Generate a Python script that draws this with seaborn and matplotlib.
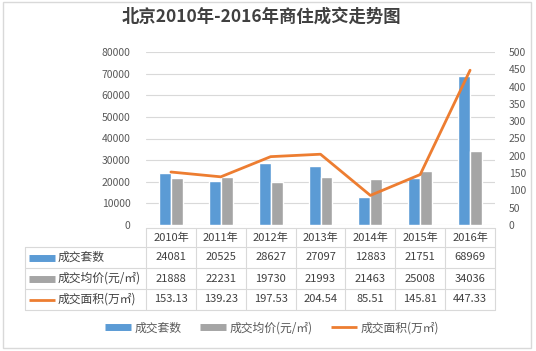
import numpy as np
import pandas as pd
import matplotlib
matplotlib.use("Agg")
import matplotlib.pyplot as plt
from matplotlib.lines import Line2D
from matplotlib.patches import Rectangle
import seaborn as sns

years = ["2010年", "2011年", "2012年", "2013年", "2014年", "2015年", "2016年"]
units = [24081, 20525, 28627, 27097, 12883, 21751, 68969]
price = [21888, 22231, 19730, 21993, 21463, 25008, 34036]
area = [153.13, 139.23, 197.53, 204.54, 85.51, 145.81, 447.33]
area_labels = ["153.13", "139.23", "197.53", "204.54", "85.51", "145.81", "447.33"]
series = ["成交套数", "成交均价(元/㎡)", "成交面积(万㎡)"]
title = "北京2010年-2016年商住成交走势图"
left_ticks = [0, 10000, 20000, 30000, 40000, 50000, 60000, 70000, 80000]
right_ticks = [0, 50, 100, 150, 200, 250, 300, 350, 400, 450, 500]

BLUE = "#5B9BD5"
GRAY = "#A5A5A5"
ORANGE = "#ED7D31"
TXT = "#595959"
GRID = "#D9D9D9"

sns.set_style("white")
plt.rcParams["font.family"] = ["Noto Sans CJK SC", "DejaVu Sans"]

W, H = 536, 351
fig = plt.figure(figsize=(W / 100, H / 100), dpi=100)

def fx(px):
    return px / W

def fy(py):
    return 1 - py / H

# axes placement
L, R, T, B = 146, 495, 52, 225
ax = fig.add_axes([fx(L), fy(B), fx(R) - fx(L), fy(T) - fy(B)])

df = pd.DataFrame({
    "year": years * 2,
    "series": [series[0]] * len(years) + [series[1]] * len(years),
    "value": units + price,
})
sns.barplot(data=df, x="year", y="value", hue="series", palette=[BLUE, GRAY],
            width=0.48, gap=0, saturation=1, ax=ax, legend=False, order=years)
ax.set_xlim(-0.5, len(years) - 0.5)
ax.set_ylim(0, 80000)
ax.set_yticks(left_ticks)
ax.set_yticklabels([str(t) for t in left_ticks])
ax.tick_params(axis="y", length=0, pad=11, labelsize=7.5, labelcolor=TXT)
ax.set_xticks([])
ax.set_xlabel("")
ax.set_ylabel("")
ax.grid(axis="y", color=GRID, lw=0.8)
ax.set_axisbelow(True)
for s in ax.spines.values():
    s.set_visible(False)

ax2 = ax.twinx()
sns.lineplot(x=np.arange(len(years)), y=area, ax=ax2, color=ORANGE, lw=2.0)
ax2.set_ylim(0, 500)
ax2.set_yticks(right_ticks)
ax2.set_yticklabels([str(t) for t in right_ticks])
ax2.tick_params(axis="y", length=0, pad=10, labelsize=7.5, labelcolor=TXT)
ax2.set_xlim(-0.5, len(years) - 0.5)
for s in ax2.spines.values():
    s.set_visible(False)

# title
fig.text(fx(261), fy(17), title, ha="center", va="center", fontsize=12.5,
         color="#404040", fontweight="bold")

# table
TL = 25
col_w = (R - L) / len(years)
row_y = [228, 247, 268, 289, 310]

def hline(x0, x1, y):
    fig.add_artist(Line2D([fx(x0), fx(x1)], [fy(y), fy(y)], color=GRID, lw=0.8))

def vline(x, y0, y1):
    fig.add_artist(Line2D([fx(x), fx(x)], [fy(y0), fy(y1)], color=GRID, lw=0.8))

hline(L, R, row_y[0])
for y in row_y[1:]:
    hline(TL, R, y)
vline(TL, row_y[1], row_y[4])
for i in range(len(years) + 1):
    vline(L + i * col_w, row_y[0], row_y[4])

fs_tab = 8
for i, yr in enumerate(years):
    cx = L + (i + 0.5) * col_w
    fig.text(fx(cx), fy((row_y[0] + row_y[1]) / 2), yr, ha="center", va="center",
             fontsize=fs_tab, color="#404040")
    fig.text(fx(cx), fy((row_y[1] + row_y[2]) / 2), str(units[i]), ha="center",
             va="center", fontsize=fs_tab, color="#404040")
    fig.text(fx(cx), fy((row_y[2] + row_y[3]) / 2), str(price[i]), ha="center",
             va="center", fontsize=fs_tab, color="#404040")
    fig.text(fx(cx), fy((row_y[3] + row_y[4]) / 2), area_labels[i], ha="center",
             va="center", fontsize=fs_tab, color="#404040")

key_styles = [(BLUE, 5), (GRAY, 5), (ORANGE, 2.0)]
for j, (name, (c, lw)) in enumerate(zip(series, key_styles)):
    yc = (row_y[j + 1] + row_y[j + 2]) / 2
    fig.add_artist(Line2D([fx(29), fx(55)], [fy(yc), fy(yc)], color=c, lw=lw,
                          solid_capstyle="butt"))
    fig.text(fx(58), fy(yc), name, ha="left", va="center", fontsize=8.5,
             color="#404040")

# bottom legend
handles = [Line2D([], [], color=c, lw=lw, solid_capstyle="butt") for c, lw in key_styles]
fig.legend(handles, series, loc="center", bbox_to_anchor=(fx(272), fy(328)),
           ncol=3, frameon=False, fontsize=8.5, labelcolor=TXT, handlelength=2.2,
           handletextpad=0.3, columnspacing=1.6)

# outer border
fig.add_artist(Rectangle((fx(3), fy(348)), fx(531) - fx(3), fy(2) - fy(348),
                         fill=False, ec=GRID, lw=1))

fig.savefig("out.png", dpi=100)
